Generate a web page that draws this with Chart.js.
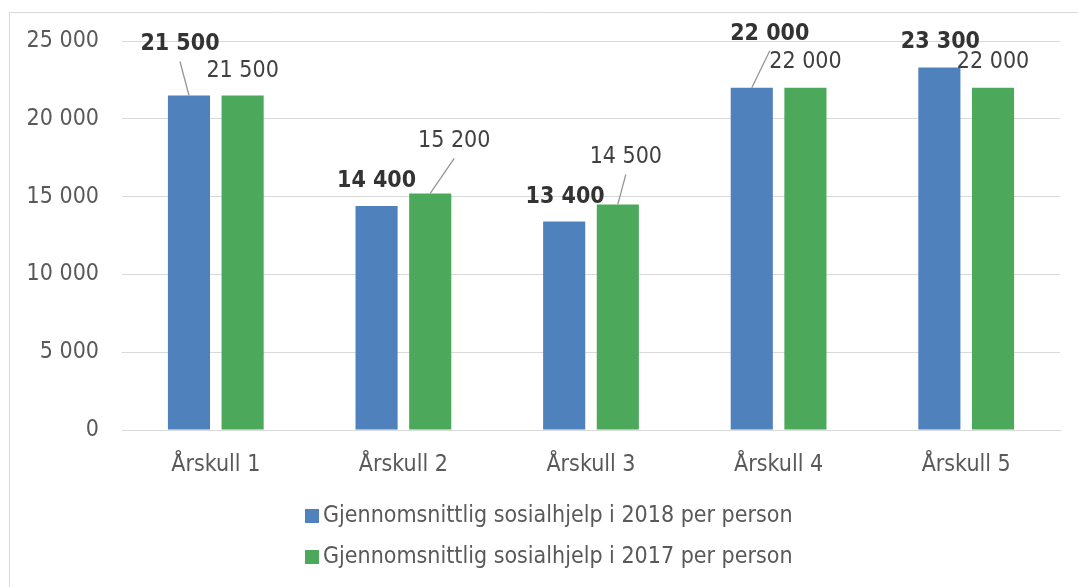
<!DOCTYPE html>
<html>
<head>
<meta charset="utf-8">
<script src="https://cdn.jsdelivr.net/npm/chart.js@4.4.1/dist/chart.umd.min.js"></script>
<style>
  html, body { margin: 0; padding: 0; background: #fff; }
  #wrap { width: 1078px; height: 587px; position: relative; }
</style>
</head>
<body>
<div id="wrap"><canvas id="chart"></canvas></div>
<script>
const categories = ['Årskull 1', 'Årskull 2', 'Årskull 3', 'Årskull 4', 'Årskull 5'];
const series2018 = [21500, 14400, 13400, 22000, 23300];
const series2017 = [21500, 15200, 14500, 22000, 22000];
const seriesNames = [
  'Gjennomsnittlig sosialhjelp i 2018 per person',
  'Gjennomsnittlig sosialhjelp i 2017 per person'
];
const yTicks = [0, 5000, 10000, 15000, 20000, 25000];

const FONT = '"DejaVu Sans Condensed", "DejaVu Sans", sans-serif';

function fmt(v) {
  return String(v).replace(/\B(?=(\d{3})+(?!\d))/g, ' ');
}

// label shifts from the top of each bar (Excel-style moved labels)
const labelShift = [
  [[-9, -51], [0, -25], [1, -24], [18, -54], [1, -25]],
  [[0, -24], [24, -52], [8, -47], [0, -26], [0, -26]]
];

const valueLabels = {
  id: 'valueLabels',
  afterDatasetsDraw(chart) {
    const ctx = chart.ctx;
    ctx.save();
    chart.data.datasets.forEach((ds, di) => {
      const meta = chart.getDatasetMeta(di);
      meta.data.forEach((bar, i) => {
        const [dx, dy] = labelShift[di][i];
        const lx = bar.x + dx;
        const ly = bar.y + dy;
        if (Math.abs(dy) > 40) {
          ctx.strokeStyle = '#969696';
          ctx.lineWidth = 1.3;
          ctx.beginPath();
          ctx.moveTo(lx, ly + 17);
          ctx.lineTo(bar.x, bar.y);
          ctx.stroke();
        }
        ctx.font = (di === 0 ? 'bold ' : '') + '23px ' + FONT;
        ctx.fillStyle = di === 0 ? '#333333' : '#404040';
        ctx.textAlign = 'center';
        ctx.textBaseline = 'middle';
        ctx.fillText(fmt(ds.data[i]), lx, ly);
      });
    });
    ctx.restore();
  }
};

const frameAndLegend = {
  id: 'frameAndLegend',
  afterDraw(chart) {
    const ctx = chart.ctx;
    ctx.save();
    ctx.strokeStyle = '#d9d9d9';
    ctx.lineWidth = 1;
    ctx.beginPath();
    ctx.moveTo(9.5, 600);
    ctx.lineTo(9.5, 12.5);
    ctx.lineTo(1078, 12.5);
    ctx.stroke();

    const rows = [516, 557];
    chart.data.datasets.forEach((ds, di) => {
      const y = rows[di];
      ctx.fillStyle = ds.backgroundColor;
      ctx.fillRect(305, y - 7, 14, 14);
      ctx.font = '23px ' + FONT;
      ctx.fillStyle = '#595959';
      ctx.textAlign = 'left';
      ctx.textBaseline = 'middle';
      ctx.fillText(ds.label, 323, y);
    });
    ctx.restore();
  }
};

new Chart(document.getElementById('chart'), {
  type: 'bar',
  data: {
    labels: categories,
    datasets: [
      { label: seriesNames[0], data: series2018, backgroundColor: '#4f81bd' },
      { label: seriesNames[1], data: series2017, backgroundColor: '#4ca95c' }
    ]
  },
  options: {
    responsive: true,
    maintainAspectRatio: false,
    animation: false,
    layout: { padding: { left: 0, right: 18, top: 41, bottom: 107 } },
    datasets: { bar: { categoryPercentage: 0.572, barPercentage: 0.785 } },
    plugins: {
      legend: { display: false },
      tooltip: { enabled: false }
    },
    scales: {
      x: {
        grid: { display: false, drawTicks: false },
        border: { display: true, color: '#d9d9d9', width: 1 },
        ticks: { color: '#595959', font: { family: FONT, size: 23 }, padding: 21 },
        afterFit(scale) { scale.height = 50; }
      },
      y: {
        min: 0,
        max: 25000,
        afterBuildTicks(scale) { scale.ticks = yTicks.map(v => ({ value: v })); },
        grid: { color: '#d9d9d9', lineWidth: 1, drawTicks: false },
        border: { display: false },
        ticks: {
          color: '#595959',
          font: { family: FONT, size: 23 },
          padding: 23,
          callback: v => fmt(v)
        },
        afterFit(scale) { scale.width = 122; }
      }
    }
  },
  plugins: [valueLabels, frameAndLegend]
});
</script>
</body>
</html>
